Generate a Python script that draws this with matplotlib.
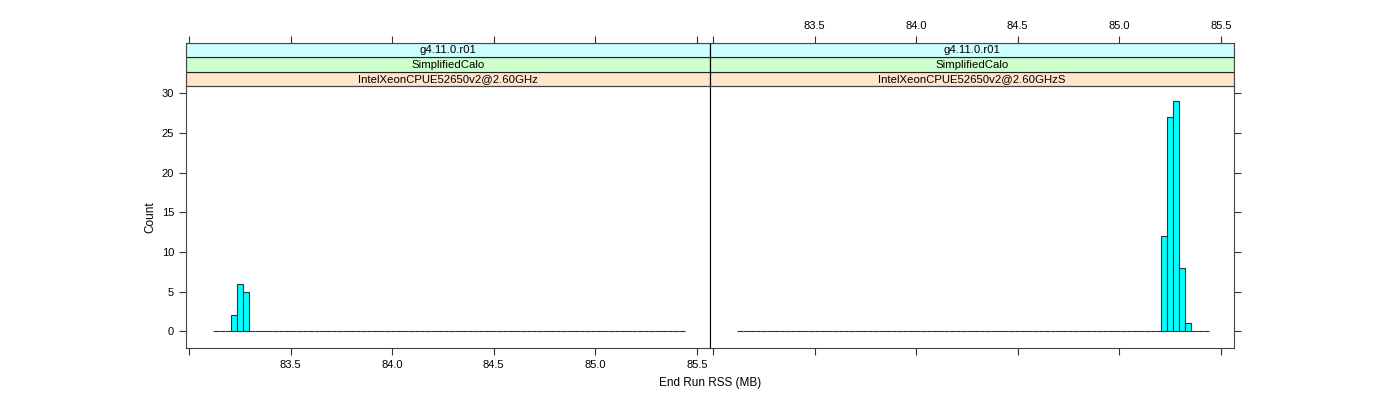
import numpy as np
import matplotlib.pyplot as plt
from matplotlib.patches import Rectangle

# histogram bins shared by both panels
bin_start = 83.12
bin_width = 0.029
n_bins = 80

# nonzero counts per panel: bin index -> count
panel_counts = [
    {3: 2, 4: 6, 5: 5},
    {72: 12, 73: 27, 74: 29, 75: 8, 76: 1},
]
strip_top = ['g4.11.0.r01', 'g4.11.0.r01']
strip_mid = ['SimplifiedCalo', 'SimplifiedCalo']
strip_bot = ['IntelXeonCPUE52650v2@2.60GHz', 'IntelXeonCPUE52650v2@2.60GHzS']
x_ticks = [83.0, 83.5, 84.0, 84.5, 85.0, 85.5]
x_labels = ['', '83.5', '84.0', '84.5', '85.0', '85.5']
y_ticks = [0, 5, 10, 15, 20, 25, 30]

strip_colors = ['#ccffff', '#ccffcc', '#ffe5cc']
W, H = 1400, 400
xlim = (82.985, 85.565)
ylim = (-2.1, 30.9)

plt.rcParams['font.family'] = ['Liberation Sans', 'DejaVu Sans']
fig = plt.figure(figsize=(14, 4), dpi=100)

def frac(x0, y0, x1, y1):
    return [x0 / W, 1 - y1 / H, (x1 - x0) / W, (y1 - y0) / H]

lefts = [186, 710]
for i in range(2):
    x0 = lefts[i]
    ax = fig.add_axes(frac(x0, 86, x0 + 524, 348))
    edges = bin_start + bin_width * np.arange(n_bins)
    counts = np.zeros(n_bins)
    for k, c in panel_counts[i].items():
        counts[k] = c
    ax.bar(edges, counts, width=bin_width, align='edge', color='#00ffff',
           edgecolor='#333333', linewidth=0.8)
    ax.set_xlim(*xlim)
    ax.set_ylim(*ylim)
    for s in ax.spines.values():
        s.set_color('#444444')
        s.set_linewidth(0.8)
    # shared border between panels is black
    ax.spines['right' if i == 0 else 'left'].set_color('black')
    ax.tick_params(direction='out', length=5, width=0.8, color='#333333',
                   labelsize=8)
    ax.set_xticks(x_ticks)
    ax.set_yticks(y_ticks)
    if i == 0:
        ax.set_xticklabels(x_labels)
        ax.tick_params(axis='y', left=True, right=False, labelleft=True)
        ax.set_ylabel('Count', fontsize=8.5)
    else:
        ax.set_xticklabels([])
        ax.tick_params(axis='y', left=False, right=True, labelleft=False)
    ax.tick_params(axis='x', top=False, bottom=True)

    # strips
    sax = fig.add_axes(frac(x0, 43, x0 + 524, 86))
    sax.set_xlim(*xlim)
    sax.set_ylim(0, 3)
    texts = [strip_bot[i], strip_mid[i], strip_top[i]]
    for j in range(3):
        sax.add_patch(Rectangle((xlim[0], j), xlim[1] - xlim[0], 1,
                                facecolor=strip_colors[2 - j],
                                edgecolor='#222222', linewidth=0.8))
        sax.text(np.mean(xlim), j + 0.5, texts[j], ha='center', va='center',
                 fontsize=8.2)
    for s in sax.spines.values():
        s.set_color('#444444')
        s.set_linewidth(0.8)
    sax.spines['right' if i == 0 else 'left'].set_color('black')
    sax.set_yticks([])
    sax.set_xticks(x_ticks)
    sax.tick_params(axis='x', direction='out', length=5, width=0.8,
                    color='#333333', labelsize=8, top=True, bottom=False,
                    labeltop=(i == 1), labelbottom=False)
    if i == 1:
        sax.set_xticklabels(x_labels)

fig.text(710 / W, 1 - 383 / H, 'End Run RSS (MB)', ha='center', va='center',
         fontsize=8.5)
fig.savefig('out.png', dpi=100)
